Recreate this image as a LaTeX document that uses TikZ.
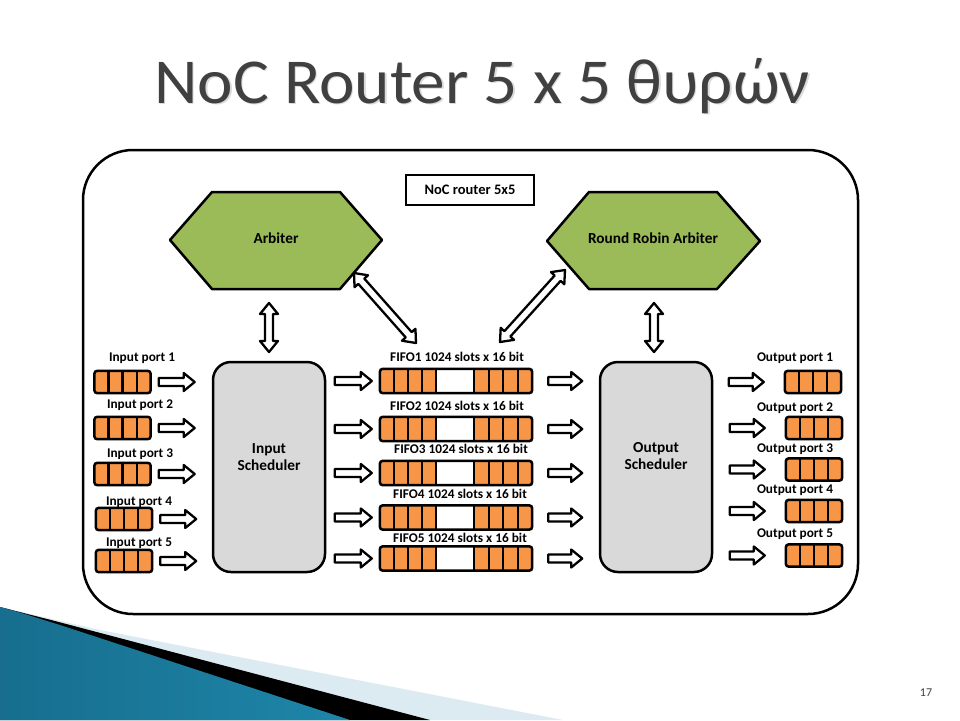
\documentclass[tikz,border=0pt]{standalone}
\usepackage{fontspec}
\setmainfont{Carlito}
\newfontfamily\titlefont[FakeStretch=1.05]{Carlito}
\usetikzlibrary{calc}
\definecolor{portorange}{HTML}{F79646}
\definecolor{hexgreen}{HTML}{9BBB59}
\definecolor{schedgray}{HTML}{D9D9D9}
\definecolor{titlegray}{HTML}{404040}
\definecolor{paleblue}{HTML}{DCEAF1}
\definecolor{footA}{HTML}{176E8E}
\definecolor{footB}{HTML}{4AB1D4}
\definecolor{footC}{HTML}{1E86A9}
\newcommand{\arrSW}{4pt}
\newcommand{\arrHW}{9pt}
\newcommand{\arrHL}{11pt}
\tikzset{
  frame/.style={draw=black,line width=2.5pt},
  divider/.style={draw=black,line width=2.2pt},
  blockarrow/.style={draw=black,fill=white,line width=2.3pt,line join=round},
  portnode/.style={minimum width=56pt,minimum height=22pt,inner sep=0pt},
  fifonode/.style={minimum width=152pt,minimum height=24pt,inner sep=0pt},
  lbl/.style={font=\bfseries\fontsize{13.3}{14}\selectfont,anchor=base,inner sep=0pt},
  bigtxt/.style={font=\bfseries\fontsize{15.3}{18}\selectfont,align=center,inner sep=0pt},
  hexa/.style={draw=black,fill=hexgreen,line width=2.5pt,line join=round},
  sched/.style={draw=black,fill=schedgray,line width=2.5pt,rounded corners=18pt,minimum width=112pt,minimum height=210pt,inner sep=0pt},
  titletext/.style={font=\titlefont\fontsize{64}{70}\selectfont,anchor=base},
}
\newcommand{\sarrow}[2]{%
  \coordinate (tmpH) at ($(#2)!\arrHL!(#1)$);
  \draw[blockarrow] ($(#1)!\arrSW!90:(#2)$) -- ($(tmpH)!\arrSW!90:(#2)$) -- ($(tmpH)!\arrHW!90:(#2)$) -- (#2) -- ($(tmpH)!\arrHW!-90:(#2)$) -- ($(tmpH)!\arrSW!-90:(#2)$) -- ($(#1)!\arrSW!-90:(#2)$) -- cycle;}
\newcommand{\darrow}[2]{%
  \coordinate (tmpA) at ($(#1)!\arrHL!(#2)$);
  \coordinate (tmpB) at ($(#2)!\arrHL!(#1)$);
  \draw[blockarrow] (#1) -- ($(tmpA)!\arrHW!90:(#2)$) -- ($(tmpA)!\arrSW!90:(#2)$) -- ($(tmpB)!\arrSW!90:(#2)$) -- ($(tmpB)!\arrHW!90:(#2)$) -- (#2) -- ($(tmpB)!\arrHW!-90:(#2)$) -- ($(tmpB)!\arrSW!-90:(#2)$) -- ($(tmpA)!\arrSW!-90:(#2)$) -- ($(tmpA)!\arrHW!-90:(#2)$) -- cycle;}
\newcommand{\portblock}[2]{%
  \node[portnode] (#1) at (#2) {};
  \fill[portorange,rounded corners=2pt] (#1.south west) rectangle (#1.north east);
  \foreach \f in {0.25,0.5,0.75} \draw[divider] ($(#1.south west)!\f!(#1.south east)$) -- ($(#1.north west)!\f!(#1.north east)$);
  \draw[frame,rounded corners=3pt] (#1.south west) rectangle (#1.north east);}
\newcommand{\fifoblock}[2]{%
  \node[fifonode] (#1) at (#2) {};
  \fill[white,rounded corners=2pt] (#1.south west) rectangle (#1.north east);
  \fill[portorange,rounded corners=2pt] (#1.south west) rectangle ($(#1.north west)!0.368!(#1.north east)$);
  \fill[portorange,rounded corners=2pt] ($(#1.south west)!0.618!(#1.south east)$) rectangle (#1.north east);
  \foreach \f in {0.092,0.184,0.276,0.368,0.618,0.714,0.809,0.905} \draw[divider] ($(#1.south west)!\f!(#1.south east)$) -- ($(#1.north west)!\f!(#1.north east)$);
  \draw[frame,rounded corners=3pt] (#1.south west) rectangle (#1.north east);}
\begin{document}
\begin{tikzpicture}[x=1pt,y=-1pt]
\useasboundingbox (0,0) rectangle (960,720);
\fill[white] (0,0) rectangle (960,720);
% footer decoration
\fill[paleblue] (0,607) -- (100,630) -- (563,720) -- (0,720) -- cycle;
\fill[black] (0,607) -- (55,621) -- (430,720) -- (0,720) -- cycle;
\shade[left color=footA,middle color=footB,right color=footC] (0,607) .. controls (20,612) and (40,619) .. (60,625) -- (350,720) -- (0,720) -- cycle;
% title
\node[titletext,text=black!14] at (483.5,104.5) {NoC Router 5 x 5 θυρών};
\node[titletext,text=titlegray] (title) at (482,103) {NoC Router 5 x 5 θυρών};
\node[font=\fontsize{12}{14}\selectfont,text=black!75] (pnum) at (926,693) {17};
% outer frame
\draw[frame,rounded corners=50pt] (83,150) rectangle (858,614);
% label box
\node[draw=black,line width=1.2pt,minimum width=128pt,minimum height=30pt,font=\bfseries\fontsize{14.5}{16}\selectfont] (lab) at (470,190) {NoC router 5x5};
% hexagons
\draw[hexa] (170,240) -- (212,192) -- (340,192) -- (382,240) -- (340,289) -- (212,289) -- cycle;
\node[bigtxt] (arb) at (276,238) {Arbiter};
\draw[hexa] (547,241) -- (589,192) -- (717,192) -- (760,241) -- (717,289) -- (589,289) -- cycle;
\node[bigtxt] (rra) at (653,238) {Round Robin Arbiter};
% schedulers
\node[sched] (insched) at (269,467) {};
\node[bigtxt] (intxt) at (269,457) {Input\\[-1pt]Scheduler};
\node[sched] (outsched) at (656,467) {};
\node[bigtxt] (outtxt) at (656,456) {Output\\[-1pt]Scheduler};
% input ports
\portblock{ip1}{122.5,382}
\portblock{ip2}{122.5,428}
\portblock{ip3}{122.5,474}
\portblock{ip4}{124,519}
\portblock{ip5}{124,561}
\node[lbl] (ipl1) at (142,361) {Input port 1};
\node[lbl] (ipl2) at (140,408) {Input port 2};
\node[lbl] (ipl3) at (140,457) {Input port 3};
\node[lbl] (ipl4) at (139,505) {Input port 4};
\node[lbl] (ipl5) at (139,546) {Input port 5};
% fifos
\fifoblock{f1}{456,381}
\fifoblock{f2}{456,429}
\fifoblock{f3}{456,473}
\fifoblock{f4}{456,517.5}
\fifoblock{f5}{456,558.5}
\node[lbl] (fl1) at (457,361) {FIFO1 1024 slots x 16 bit};
\node[lbl] (fl2) at (457,410) {FIFO2 1024 slots x 16 bit};
\node[lbl] (fl3) at (461,453) {FIFO3 1024 slots x 16 bit};
\node[lbl] (fl4) at (460,498) {FIFO4 1024 slots x 16 bit};
\node[lbl] (fl5) at (460,542) {FIFO5 1024 slots x 16 bit};
% output ports
\portblock{op1}{813,382}
\portblock{op2}{814,428}
\portblock{op3}{814,469.5}
\portblock{op4}{814,511}
\portblock{op5}{814,555.5}
\node[lbl] (opl1) at (795,361) {Output port 1};
\node[lbl] (opl2) at (795,411) {Output port 2};
\node[lbl] (opl3) at (795,452) {Output port 3};
\node[lbl] (opl4) at (795,493) {Output port 4};
\node[lbl] (opl5) at (795,537) {Output port 5};
% arrows
\foreach \i in {1,...,5}{
  \coordinate (ia\i) at ($(ip\i.east)+(8,0)$);
  \coordinate (ib\i) at ($(ip\i.east)+(44,0)$);
  \sarrow{ia\i}{ib\i}
  \coordinate (sa\i) at ($(f\i.west)+(-45,0)$);
  \coordinate (sb\i) at ($(f\i.west)+(-8,0)$);
  \sarrow{sa\i}{sb\i}
  \coordinate (fa\i) at ($(f\i.east)+(16,0)$);
  \coordinate (fb\i) at ($(f\i.east)+(50,0)$);
  \sarrow{fa\i}{fb\i}
  \coordinate (oa\i) at ($(op\i.west)+(-56,0)$);
  \coordinate (ob\i) at ($(op\i.west)+(-21,0)$);
  \sarrow{oa\i}{ob\i}
}
\coordinate (a1) at (269,303);
\coordinate (a2) at (269,352);
\darrow{a1}{a2}
\coordinate (b1) at (654,303);
\coordinate (b2) at (654,352);
\darrow{b1}{b2}
\coordinate (c1) at (354,273);
\coordinate (c2) at (416,343);
\darrow{c1}{c2}
\coordinate (d1) at (565,270);
\coordinate (d2) at (500,342);
\darrow{d1}{d2}
\end{tikzpicture}
\end{document}
